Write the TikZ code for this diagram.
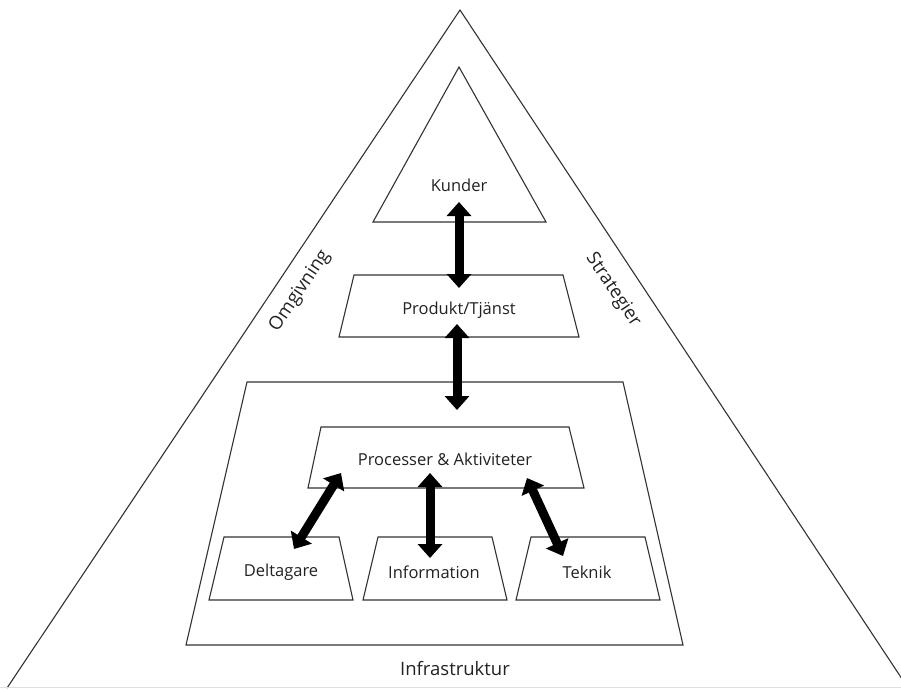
\documentclass[tikz,border=0pt]{standalone}
\usepackage{fontspec}
\setmainfont{Open Sans}
\usetikzlibrary{arrows.meta}
\definecolor{ln}{HTML}{333333}
\definecolor{tx}{HTML}{222222}
\begin{document}
\begin{tikzpicture}[x=1pt,y=-1pt,
  shapeline/.style={draw=ln,line width=1.1pt,line join=miter},
  lbl/.style={text=tx,font=\fontsize{16.5}{18}\selectfont,inner sep=0pt},
  biglbl/.style={text=tx,font=\fontsize{18.5}{20}\selectfont,inner sep=0pt},
  dblarrow/.style={line width=9pt,draw=black,
    {Triangle[length=14pt,width=24pt]}-{Triangle[length=14pt,width=24pt]},shorten <=0pt,shorten >=0pt}]
\useasboundingbox (0,0) rectangle (901,689);
\fill[white] (0,0) rectangle (901,689);
% outer triangle
\draw[shapeline] (7,688) -- (460,10) -- (908,688);
\draw[gray!25,line width=1pt] (0,687) -- (901,687);
% Kunder triangle
\draw[shapeline] (373,222) -- (459,67) -- (546,222) -- cycle;
% Produkt/Tjanst
\draw[shapeline] (354,275) -- (563,275) -- (579,337) -- (339,337) -- cycle;
% infrastructure box
\draw[shapeline] (247,382) -- (623,382) -- (683,645) -- (186,645) -- cycle;
% Processer
\draw[shapeline] (321,427) -- (569,427) -- (584,488) -- (308,488) -- cycle;
% bottom boxes
\draw[shapeline] (224,537) -- (339,537) -- (353,600) -- (209,600) -- cycle;
\draw[shapeline] (378,537) -- (492,537) -- (507,600) -- (363,600) -- cycle;
\draw[shapeline] (531,537) -- (645,537) -- (660,600) -- (516,600) -- cycle;
% labels
\node[lbl] (kunder) at (459,185) {Kunder};
\node[lbl] (produkt) at (459,310) {Produkt/Tjänst};
\node[lbl] (proc) at (445,459) {Processer \& Aktiviteter};
\node[lbl] (delt) at (281,572) {Deltagare};
\node[lbl] (info) at (434,572) {Information};
\node[lbl] (tek) at (587,572) {Teknik};
\node[biglbl] (infra) at (455,668) {Infrastruktur};
\node[biglbl,rotate=56] (omg) at (300,291) {Omgivning};
\node[biglbl,rotate=-56] (strat) at (613,290) {Strategier};
% arrow end points
\coordinate (a1s) at (459,202);
\coordinate (a1e) at (459,288);
\coordinate (a2s) at (457,324);
\coordinate (a2e) at (457,410);
\coordinate (a3s) at (341,473);
\coordinate (a3e) at (294,549);
\coordinate (a4s) at (430,473);
\coordinate (a4e) at (430,558);
\coordinate (a5s) at (527,478);
\coordinate (a5e) at (563,556);
\draw[dblarrow] (a1s) -- (a1e);
\draw[dblarrow] (a2s) -- (a2e);
\draw[dblarrow] (a3s) -- (a3e);
\draw[dblarrow] (a4s) -- (a4e);
\draw[dblarrow] (a5s) -- (a5e);
\end{tikzpicture}
\end{document}
